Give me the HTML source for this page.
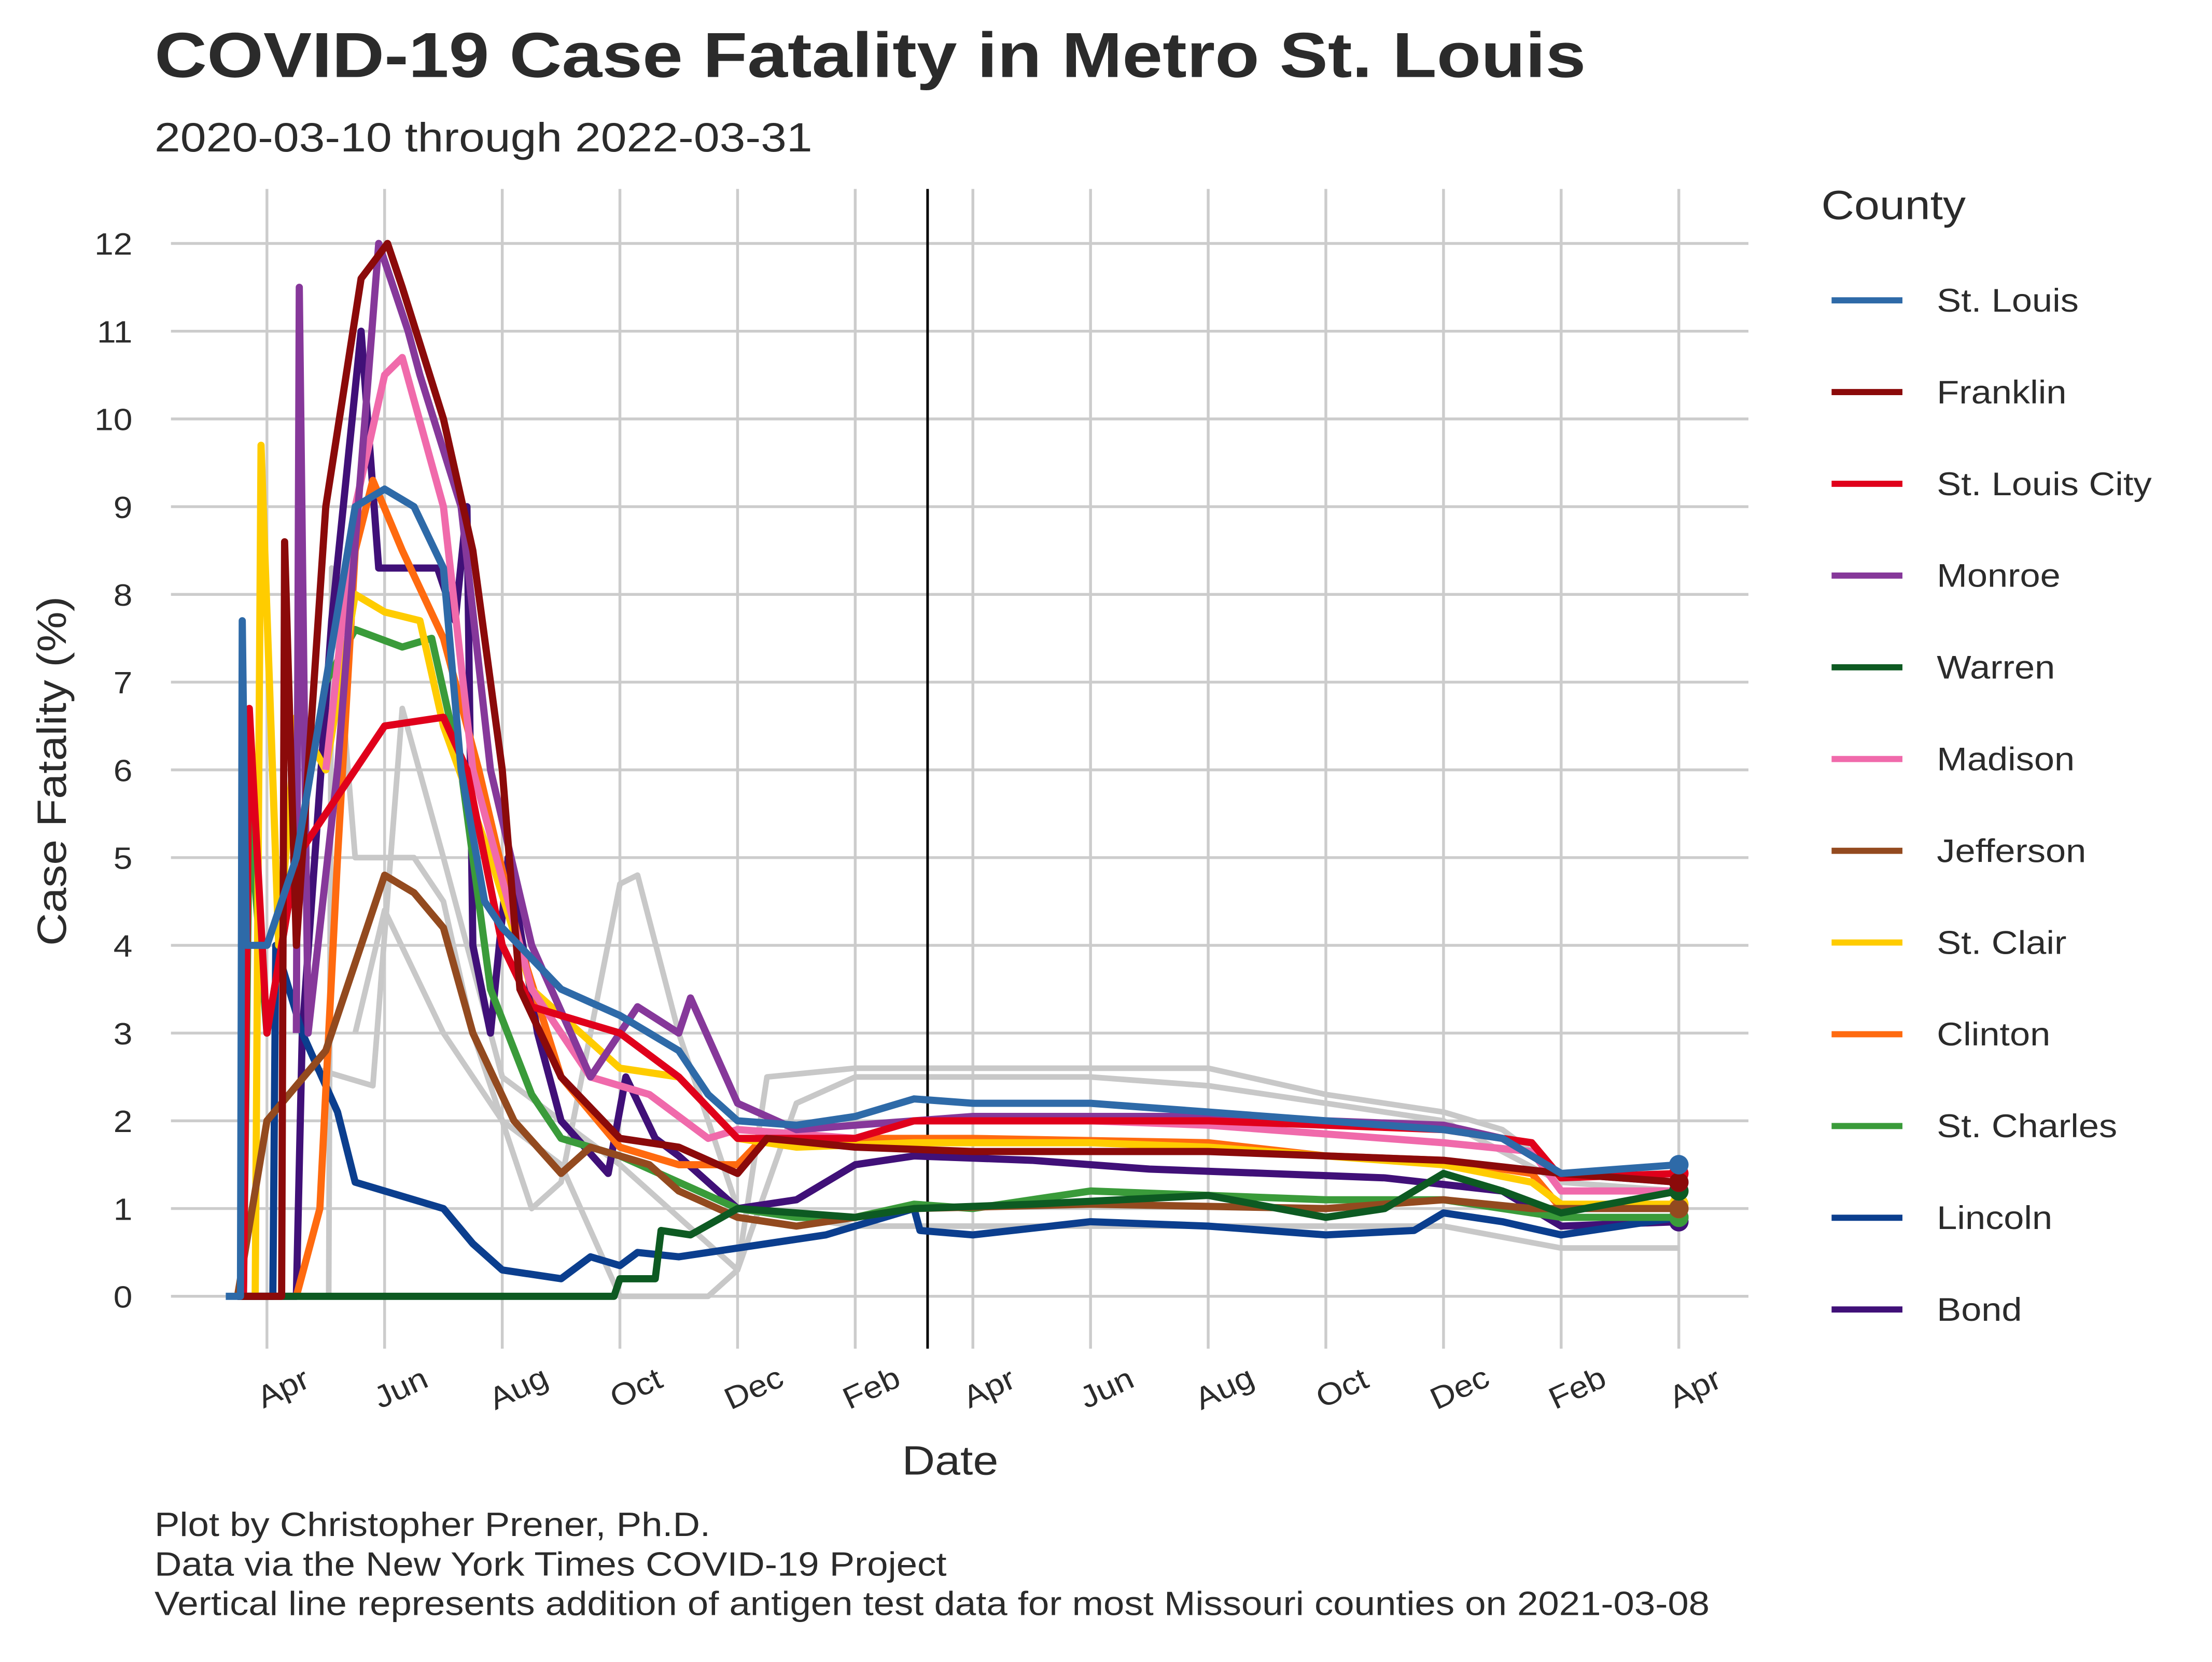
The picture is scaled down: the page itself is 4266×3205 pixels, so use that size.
<!DOCTYPE html>
<html><head><meta charset="utf-8"><style>
html,body{margin:0;padding:0;background:#fff;}
svg text{font-family:"Liberation Sans",sans-serif;fill:#2b2b2b;}
</style></head><body>
<svg id="chart" xmlns="http://www.w3.org/2000/svg" width="4266" height="3200" viewBox="0 0 4266 3200">
<rect width="4266" height="3200" fill="#fff"/>
<g id="root" transform="translate(3,2) scale(0.99)">
<text class="st" data-stretch="1.14" x="298" y="148" font-size="124" font-weight="bold">COVID-19 Case Fatality in Metro St. Louis</text>
<text class="st" data-stretch="1.13" x="298" y="293" font-size="80">2020-03-10 through 2022-03-31</text>
<g id="grid"></g>
<g id="gray"></g>
<g id="series"></g>
<g id="axes"></g>
<g id="legend"></g>
<text class="st" transform="translate(125,1500) rotate(-90)" font-size="80" text-anchor="middle">Case Fatality (%)</text>
<text class="st" x="1848" y="2870" font-size="80" text-anchor="middle">Date</text>
<text class="st" x="298" y="2990" font-size="66">Plot by Christopher Prener, Ph.D.</text>
<text class="st" x="298" y="3067" font-size="66">Data via the New York Times COVID-19 Project</text>
<text class="st" x="298" y="3144" font-size="66">Vertical line represents addition of antigen test data for most Missouri counties on 2021-03-08</text>
</g>
</svg>
<script>
// time t = months since 2020-04-01
const yTicks = [0,1,2,3,4,5,6,7,8,9,10,11,12];
const xTickT = [0,2,4,6,8,10,12,14,16,18,20,22,24];
const xTickLabels = ["Apr","Jun","Aug","Oct","Dec","Feb","Apr","Jun","Aug","Oct","Dec","Feb","Apr"];
const antigenT = 11.23;
const countyNames = ["St. Louis","Franklin","St. Louis City","Monroe","Warren","Madison","Jefferson","St. Clair","Clinton","St. Charles","Lincoln","Bond"];
const countyColors = ["#2e6aa8","#8b0a0a","#e0001b","#86389a","#0d5a22","#f06aab","#934a1f","#ffcc00","#ff6a0f","#3a9b3a","#0b3e8e","#401078"];
const stLouis = [[-0.7,0],[-0.45,0],[-0.42,7.7],[-0.35,4],[0,4],[0.5,5],[1,7],[1.5,9],[2,9.2],[2.5,9],[3,8.3],[3.3,6],[3.7,4.5],[4,4.2],[5,3.5],[6,3.2],[7,2.8],[7.5,2.3],[8,2.0],[9,1.95],[10,2.05],[11,2.25],[12,2.2],[14,2.2],[16,2.1],[18,2.0],[20,1.9],[21,1.8],[22,1.4],[23,1.45],[24,1.5]];
const franklin = [[-0.5,0],[0.25,0],[0.3,8.6],[0.5,4],[1,9],[1.6,11.6],[2.05,12],[2.3,11.5],[3,10],[3.5,8.5],[4,6],[4.3,3.5],[5,2.5],[6,1.8],[7,1.7],[8,1.4],[8.5,1.8],[10,1.7],[12,1.65],[16,1.65],[20,1.55],[22,1.4],[24,1.3]];
const stLouisCity = [[-0.4,0],[-0.3,6.7],[0,3],[0.5,5],[1.5,6],[2,6.5],[3,6.6],[3.4,6],[4,4],[4.5,3.3],[6,3.0],[7,2.5],[8,1.8],[10,1.8],[11,2.0],[13,2.0],[16,2.0],[18,1.95],[20,1.9],[21.5,1.75],[22,1.35],[24,1.4]];
const monroe = [[0.5,3],[0.55,11.5],[0.7,3],[1.2,6],[1.9,12],[2.4,11],[2.6,10.5],[3.3,9],[3.8,6],[4.5,4],[5.5,2.5],[6.3,3.3],[7,3.0],[7.2,3.4],[8,2.2],[9,1.9],[11,2.0],[12,2.05],[16,2.05],[18,2.0],[20,1.95],[21,1.8],[22,1.4],[24,1.3]];
const warren = [[-0.5,0],[5.9,0],[6,0.2],[6.6,0.2],[6.7,0.75],[7.2,0.7],[8,1.0],[9,0.95],[10,0.9],[11,1.0],[13,1.05],[16,1.15],[18,0.9],[19,1.0],[20,1.4],[21,1.2],[22,0.95],[24,1.2]];
const madison = [[1,6],[1.5,9],[2,10.5],[2.3,10.7],[3,9],[3.5,6],[4.5,3.5],[5.5,2.5],[6.5,2.3],[7.5,1.8],[8,1.9],[10,1.8],[11,2.0],[14,2.0],[16,1.95],[18,1.85],[20,1.75],[21.5,1.65],[22,1.2],[24,1.2]];
const jefferson = [[-0.5,0],[0,2],[1,2.8],[1.6,4],[2,4.8],[2.5,4.6],[3,4.2],[3.5,3],[4.2,2.0],[5,1.4],[5.5,1.7],[6.5,1.5],[7,1.2],[8,0.9],[9,0.8],[10,0.9],[11,1.0],[14,1.05],[18,1.0],[20,1.1],[21.5,1.0],[24,1.0]];
const stClair = [[-0.2,0],[-0.1,9.7],[0.2,4],[0.5,6.6],[1,6],[1.5,8],[2,7.8],[2.6,7.7],[3,6.5],[3.8,5],[4.5,3.5],[6,2.6],[7,2.5],[8,1.8],[9,1.7],[11,1.75],[14,1.75],[16,1.7],[18,1.6],[20,1.5],[21.5,1.3],[22,1.05],[24,1.05]];
const clinton = [[0.5,0],[0.9,1],[1.2,5],[1.5,8.5],[1.8,9.3],[2.3,8.5],[3,7.5],[3.6,6],[4.3,4],[5,2.5],[6,1.7],[7,1.5],[8,1.5],[8.5,1.85],[10,1.8],[12,1.8],[16,1.75],[18,1.6],[20,1.55],[21.5,1.4],[22,1.0],[24,1.0]];
const stCharles = [[-0.4,0],[-0.3,5.5],[0,3],[0.5,5],[1,7],[1.5,7.6],[2.3,7.4],[2.8,7.5],[3.3,6],[3.8,3.5],[4.5,2.3],[5,1.8],[6,1.6],[7,1.3],[8,1.0],[9,0.9],[10,0.9],[11,1.05],[12,1.0],[14,1.2],[16,1.15],[18,1.1],[20,1.1],[21,1.0],[22,0.9],[24,0.9]];
const lincoln = [[-0.5,0],[0.1,0],[0.15,4],[0.6,3],[1.2,2.1],[1.5,1.3],[2.5,1.1],[3,1.0],[3.5,0.6],[4,0.3],[5,0.2],[5.5,0.45],[6,0.35],[6.3,0.5],[7,0.45],[8,0.55],[9.5,0.7],[11,1.0],[11.1,0.75],[12,0.7],[14,0.85],[16,0.8],[18,0.7],[19.5,0.75],[20,0.95],[21,0.85],[22,0.7],[24,0.9]];
const bond = [[-0.5,0],[0.5,0],[0.6,3],[1.1,7.7],[1.6,11],[1.9,8.3],[2.9,8.3],[3.2,7.7],[3.4,9],[3.5,4],[3.8,3],[4.1,5],[4.6,3],[5,2],[5.8,1.4],[6.1,2.5],[6.6,1.8],[7,1.6],[8,1.0],[9,1.1],[10,1.5],[11,1.6],[13,1.55],[15,1.45],[17,1.4],[19,1.35],[21,1.2],[22,0.8],[24,0.85]];
const gray1 = [[1.05,0],[1.1,8.3],[1.5,5],[2.5,5],[3,4.5],[3.5,3],[4.5,1],[5,1.3],[6,4.7],[6.3,4.8],[7,3],[8,1],[10,0.8],[20,0.8],[22,0.55],[24,0.55]];
const gray2 = [[0.8,2.6],[1.8,2.4],[2.3,6.7],[3,5],[4,2.5],[5,2],[6,1.5],[8,0.3],[8.5,2.5],[10,2.6],[12,2.6],[16,2.6],[18,2.3],[20,2.1],[21,1.9],[22,1.4],[24,1.4]];
const gray3 = [[1.5,3],[2,4.4],[3,3],[4,2],[5,1.5],[6,0],[7.5,0],[8,0.3],[9,2.2],[10,2.5],[14,2.5],[16,2.4],[18,2.2],[20,2.0],[22,1.3],[24,1.2]];
const countyData = [stLouis,franklin,stLouisCity,monroe,warren,madison,jefferson,stClair,clinton,stCharles,lincoln,bond];
const grayData = [gray1,gray2,gray3];

const NS="http://www.w3.org/2000/svg";
const X = t => 517 + t*114.6;
const Y = v => 2523 - v*170.9;
function mk(tag, attrs, parent){const e=document.createElementNS(NS,tag);for(const k in attrs)e.setAttribute(k,attrs[k]);parent.appendChild(e);return e;}
const grid=document.getElementById('grid'), axes=document.getElementById('axes');
yTicks.forEach(v=>{
  const l=mk('line',{x1:330,x2:3403,y1:Y(v),y2:Y(v),stroke:'#cccccc','stroke-width':5.5},grid);
  
  
  const t=mk('text',{x:255,y:Y(v)+22,'font-size':60,'text-anchor':'end','class':'st'},axes);
  t.textContent=v;
  
  
});
xTickT.forEach((tt,i)=>{
  const l=mk('line',{x1:X(tt),x2:X(tt),y1:366,y2:2625,stroke:'#cccccc','stroke-width':5.5},grid);
  
  
  const t=mk('text',{transform:`translate(${X(tt)+40},${2720}) rotate(-25)`,'font-size':60,'text-anchor':'middle','class':'st'},axes);
  t.textContent=xTickLabels[i];
  
  
});
const pts = d => d.map(p=>X(p[0]).toFixed(1)+','+Y(p[1]).toFixed(1)).join(' ');
const gg=document.getElementById('gray');
grayData.forEach(d=>{
  const p=mk('polyline',{points:pts(d),fill:'none',stroke:'#c8c8c8','stroke-width':11,'stroke-linejoin':'round'},gg);
  
  
});
const vl=mk('line',{x1:X(antigenT),x2:X(antigenT),y1:366,y2:2625,stroke:'#000','stroke-width':5},gg);


const sg=document.getElementById('series');
for(let i=countyData.length-1;i>=0;i--){
  const d=countyData[i];
  const p=mk('polyline',{points:pts(d),fill:'none',stroke:countyColors[i],'stroke-width':14,'stroke-linejoin':'round'},sg);
  
  
  const last=d[d.length-1];
  const c=mk('circle',{cx:X(last[0]),cy:Y(last[1]),r:19,fill:countyColors[i]},sg);
  
  
}
const lg=document.getElementById('legend');
const lt=mk('text',{x:3545,y:425,'font-size':80,'class':'st'},lg);
lt.textContent='County';


countyNames.forEach((n,i)=>{
  const y=583+i*178.7;
  const l=mk('line',{x1:3565,x2:3703,y1:y,y2:y,stroke:countyColors[i],'stroke-width':12},lg);
  
  
  const t=mk('text',{x:3770,y:y+22,'font-size':64,'class':'st'},lg);
  t.textContent=n;
  
  
});
// widen text to match the wider reference typeface
document.querySelectorAll('text.st').forEach(t=>{
  const w=t.getComputedTextLength();
  const f=parseFloat(t.getAttribute('data-stretch')||'1.11');
  if(w>0){t.setAttribute('textLength',(w*f).toFixed(1));t.setAttribute('lengthAdjust','spacingAndGlyphs');}
});
</script>
</body></html>
